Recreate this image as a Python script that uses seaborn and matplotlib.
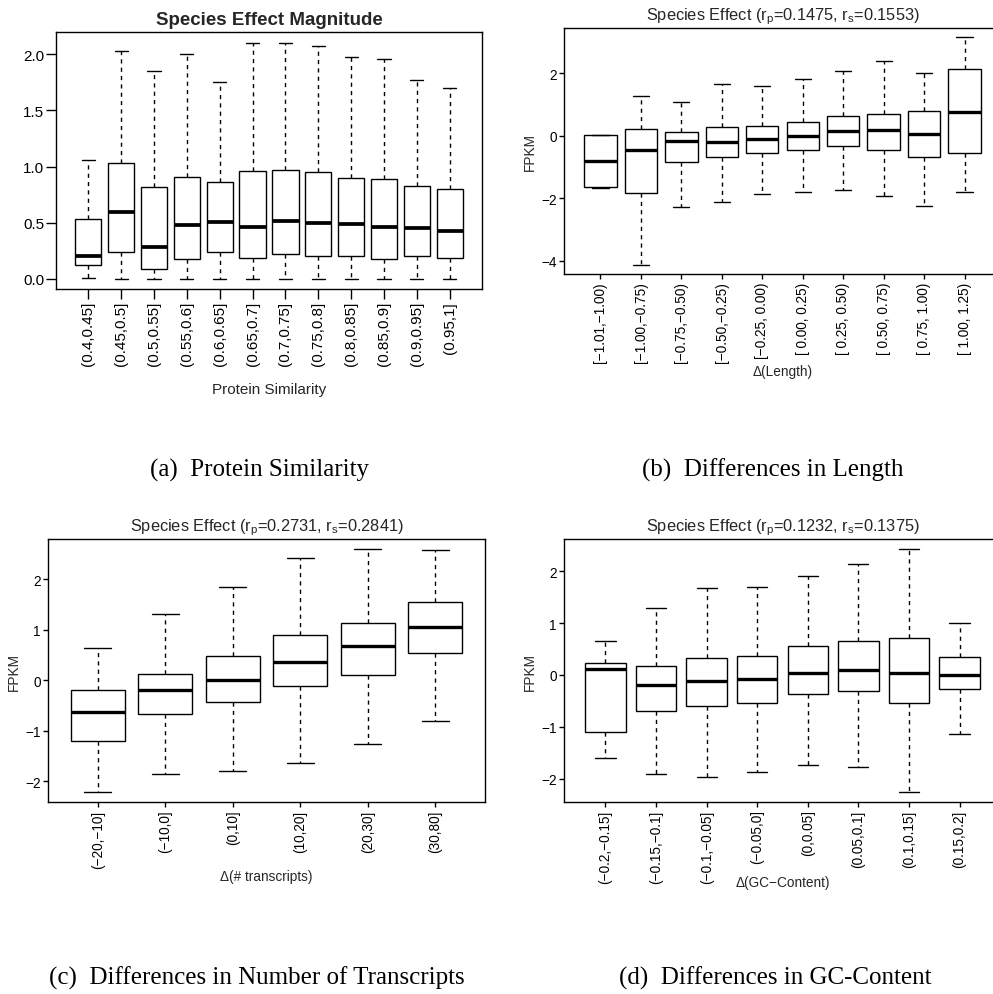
import numpy as np
import pandas as pd
import matplotlib
matplotlib.use("Agg")
import matplotlib.pyplot as plt
import seaborn as sns

sns.set_theme(style="white")
plt.rcParams["font.family"] = ["Liberation Sans", "DejaVu Sans"]
plt.rcParams["mathtext.fontset"] = "custom"
plt.rcParams["mathtext.rm"] = "Liberation Sans"
plt.rcParams["mathtext.it"] = "Liberation Sans:italic"
plt.rcParams["axes.unicode_minus"] = True

# ---------------- data ----------------
sim_bins = ["(0.4,0.45]", "(0.45,0.5]", "(0.5,0.55]", "(0.55,0.6]", "(0.6,0.65]", "(0.65,0.7]",
            "(0.7,0.75]", "(0.75,0.8]", "(0.8,0.85]", "(0.85,0.9]", "(0.9,0.95]", "(0.95,1]"]
sim_lo = [0.01, 0, 0, 0, 0, 0, 0, 0, 0, 0, 0, 0]
sim_q1 = [0.12, 0.24, 0.09, 0.18, 0.24, 0.19, 0.22, 0.20, 0.20, 0.18, 0.20, 0.19]
sim_med = [0.20, 0.60, 0.28, 0.48, 0.51, 0.46, 0.52, 0.50, 0.49, 0.46, 0.45, 0.43]
sim_q3 = [0.53, 1.03, 0.82, 0.91, 0.86, 0.96, 0.97, 0.95, 0.90, 0.89, 0.83, 0.80]
sim_hi = [1.06, 2.03, 1.85, 2.00, 1.75, 2.10, 2.10, 2.07, 1.97, 1.96, 1.77, 1.70]

len_bins = ["[\u22121.01,\u22121.00)", "[\u22121.00,\u22120.75)", "[\u22120.75,\u22120.50)",
            "[\u22120.50,\u22120.25)", "[\u22120.25, 0.00)", "[ 0.00, 0.25)", "[ 0.25, 0.50)",
            "[ 0.50, 0.75)", "[ 0.75, 1.00)", "[ 1.00, 1.25)"]
len_lo = [-1.66, -4.13, -2.27, -2.11, -1.85, -1.79, -1.75, -1.92, -2.23, -1.81]
len_q1 = [-1.65, -1.83, -0.85, -0.68, -0.56, -0.45, -0.32, -0.45, -0.68, -0.56]
len_med = [-0.82, -0.46, -0.18, -0.20, -0.11, 0.00, 0.15, 0.18, 0.06, 0.75]
len_q3 = [0.01, 0.20, 0.11, 0.27, 0.30, 0.45, 0.62, 0.70, 0.80, 2.14]
len_hi = [0.02, 1.28, 1.09, 1.66, 1.57, 1.81, 2.05, 2.37, 2.01, 3.16]

tr_bins = ["(\u221220,\u221210]", "(\u221210,0]", "(0,10]", "(10,20]", "(20,30]", "(30,80]"]
tr_lo = [-2.22, -1.86, -1.80, -1.63, -1.27, -0.80]
tr_q1 = [-1.21, -0.67, -0.43, -0.11, 0.11, 0.55]
tr_med = [-0.62, -0.19, 0.00, 0.36, 0.67, 1.06]
tr_q3 = [-0.19, 0.13, 0.48, 0.90, 1.14, 1.55]
tr_hi = [0.65, 1.32, 1.84, 2.42, 2.61, 2.59]

gc_bins = ["(\u22120.2,\u22120.15]", "(\u22120.15,\u22120.1]", "(\u22120.1,\u22120.05]", "(\u22120.05,0]",
           "(0,0.05]", "(0.05,0.1]", "(0.1,0.15]", "(0.15,0.2]"]
gc_lo = [-1.60, -1.91, -1.97, -1.88, -1.74, -1.77, -2.26, -1.13]
gc_q1 = [-1.11, -0.70, -0.60, -0.54, -0.37, -0.31, -0.55, -0.27]
gc_med = [0.12, -0.20, -0.12, -0.07, 0.03, 0.10, 0.03, 0.00]
gc_q3 = [0.24, 0.18, 0.33, 0.36, 0.55, 0.66, 0.71, 0.35]
gc_hi = [0.65, 1.29, 1.67, 1.70, 1.91, 2.14, 2.43, 1.00]


def long_df(cats, lo, q1, med, q3, hi):
    rows = []
    for c, a, b, m, d, e in zip(cats, lo, q1, med, q3, hi):
        for v in (a, b, m, d, e):
            rows.append((c, v))
    return pd.DataFrame(rows, columns=["bin", "value"])


W, H = 993, 995
fig = plt.figure(figsize=(W / 100, H / 100), dpi=100)
fig.patch.set_facecolor("white")


def make_ax(left, right, top, bottom):
    return fig.add_axes([left / W, 1 - bottom / H, (right - left) / W, (bottom - top) / H])


def draw(ax, cats, stats, ylim, yticks, yfmt, fs, tick_len, med_lw, title, title_fs,
         title_weight, xlabel, xlab_y, ylabel=None):
    df = long_df(cats, *stats)
    n = len(cats)
    sns.boxplot(data=df, x="bin", y="value", order=cats, whis=(0, 100), width=0.8,
                color="white", linecolor="black", linewidth=1.0, showfliers=False,
                saturation=1, ax=ax,
                whiskerprops=dict(linestyle=(0, (3, 3))),
                medianprops=dict(linewidth=med_lw, color="black"))
    ax.set_xlim(-0.5 - 0.04 * n, n - 0.5 + 0.04 * n)
    ax.set_ylim(*ylim)
    ax.set_yticks(yticks)
    ax.set_yticklabels([yfmt(v) for v in yticks])
    ax.set_xticks(range(n))
    ax.set_xticklabels(cats, rotation=90)
    ax.tick_params(axis="both", which="major", direction="out", length=tick_len, width=1.0,
                   color="black", labelsize=fs, labelcolor="black", pad=1.5,
                   bottom=True, left=True)
    for s in ax.spines.values():
        s.set_visible(True)
        s.set_color("black")
        s.set_linewidth(1.0)
    ax.set_title(title, fontsize=title_fs, fontweight=title_weight, pad=6)
    ax.set_xlabel(xlabel, fontsize=fs)
    ax.xaxis.set_label_coords(0.5, xlab_y)
    if ylabel:
        ax.set_ylabel(ylabel, fontsize=fs)
        ax.yaxis.set_label_coords(-0.062, 0.5)
    else:
        ax.set_ylabel("")


def minus_int(v):
    return f"{int(v)}".replace("-", "\u2212")


# (a)
ax_a = make_ax(56, 482, 33, 290)
draw(ax_a, sim_bins, (sim_lo, sim_q1, sim_med, sim_q3, sim_hi), (-0.089, 2.196),
     [0.0, 0.5, 1.0, 1.5, 2.0], lambda v: f"{v:.1f}", 11, 7.0, 2.7,
     "Species Effect Magnitude", 13.5, "bold", "Protein Similarity", -0.36)

# (b)
ax_b = make_ax(564, 1001, 28.7, 275.3)
draw(ax_b, len_bins, (len_lo, len_q1, len_med, len_q3, len_hi), (-4.426, 3.447),
     [-4, -2, 0, 2], minus_int, 9.8, 3.6, 2.4,
     r"Species Effect (r$_\mathregular{p}$=0.1475, r$_\mathregular{s}$=0.1553)", 11.8, "normal",
     "\u0394(Length)", -0.364, ylabel="FPKM")

# (c)
ax_c = make_ax(47.7, 485.3, 540, 803.3)
draw(ax_c, tr_bins, (tr_lo, tr_q1, tr_med, tr_q3, tr_hi), (-2.416, 2.799),
     [-2, -1, 0, 1, 2], minus_int, 9.8, 3.6, 2.4,
     r"Species Effect (r$_\mathregular{p}$=0.2731, r$_\mathregular{s}$=0.2841)", 11.8, "normal",
     "\u0394(# transcripts)", -0.253, ylabel="FPKM")

# (d)
ax_d = make_ax(564, 1001, 540, 803.3)
draw(ax_d, gc_bins, (gc_lo, gc_q1, gc_med, gc_q3, gc_hi), (-2.457, 2.624),
     [-2, -1, 0, 1, 2], minus_int, 9.8, 3.6, 2.4,
     r"Species Effect (r$_\mathregular{p}$=0.1232, r$_\mathregular{s}$=0.1375)", 11.8, "normal",
     "\u0394(GC\u2212Content)", -0.276, ylabel="FPKM")

# captions
cap_kw = dict(fontsize=18, family=["Liberation Serif", "DejaVu Serif"], ha="center",
              va="baseline", color="black")
fig.text(260 / W, 1 - 477 / H, "(a)  Protein Similarity", **cap_kw)
fig.text(773 / W, 1 - 477 / H, "(b)  Differences in Length", **cap_kw)
fig.text(257 / W, 1 - 985 / H, "(c)  Differences in Number of Transcripts", **cap_kw)
fig.text(775 / W, 1 - 985 / H, "(d)  Differences in GC-Content", **cap_kw)

fig.savefig("out.png", dpi=100, facecolor="white")
